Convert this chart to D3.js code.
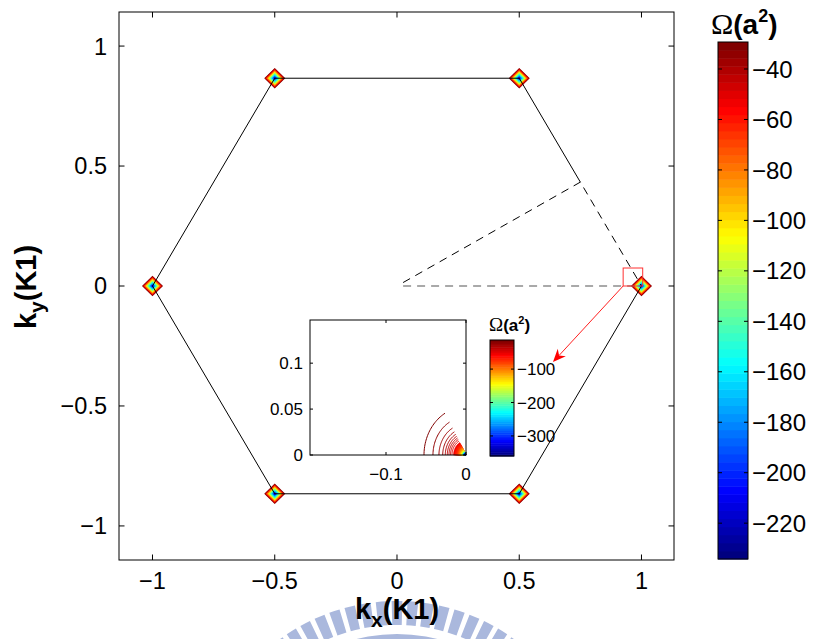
<!DOCTYPE html>
<html><head><meta charset="utf-8">
<script src="https://cdn.jsdelivr.net/npm/d3@7"></script>
<style>
body{margin:0;background:#fff}
svg{display:block}
text{font-family:"Liberation Sans",Arial,Helvetica,sans-serif;fill:#000}
</style>
</head><body>
<svg id="c" width="815" height="639"></svg>
<script>
// ---------------- data ----------------
const kPoints = [[1,0],[0.5,0.866],[-0.5,0.866],[-1,0],[-0.5,-0.866],[0.5,-0.866]];
// Brillouin-zone boundary (solid part; M->K is drawn dashed)
const hexagon = [[1,0],[0.5,-0.866],[-0.5,-0.866],[-1,0],[-0.5,0.866],[0.5,0.866],[0.75,0.433]];
const wedgePath = [[0.025,0.0144],[0.75,0.433],[1,0]];
const gammaK = [[0.025,0],[1,0]];
const zoomBox = [[0.925,0],[1.005,0.075]];
const arrowPts = [[0.925,0],[0.638,-0.317]];
const xTicks = [-1,-0.5,0,0.5,1];
const yTicks = [-1,-0.5,0,0.5,1];
const xTickLabels = ["\u22121","\u22120.5","0","0.5","1"];
const yTickLabels = ["\u22121","\u22120.5","0","0.5","1"];
// contour levels around every K point (value, half-diagonal in k units)
const kLevels = [-30,-45,-60,-75,-90,-105,-120,-135,-150,-165,-180,-195,-210,-225];
const kRadii  = [0.043,0.040,0.0368,0.0336,0.0303,0.027,0.0237,0.0205,0.0172,0.014,0.0107,0.0078,0.005,0.0025];
const cbTicks = [-40,-60,-80,-100,-120,-140,-160,-180,-200,-220];
const cbTickLabels = ["\u221240","\u221260","\u221280","\u2212100","\u2212120","\u2212140","\u2212160","\u2212180","\u2212200","\u2212220"];
const cbDomain = [-234.2,-29.3];
// inset
const insetXTicks = [-0.1,0];
const insetXTickLabels = ["\u22120.1","0"];
const insetYTicks = [0,0.05,0.1];
const insetYTickLabels = ["0","0.05","0.1"];
const insetLevels = [-15,-19,-24,-28,-32,-36,-40,-45,-50,-56,-62,-70,-78,-87,-97,-108,-120,-135,-150,-170,-190,-215,-240,-270,-300,-330,-355];
const insetRadii  = [0.0525,0.0413,0.0338,0.0291,0.0259,0.0234,0.0213,0.0194,0.0175,0.0156,0.0140,0.0125,0.0113,0.0100,0.0090,0.0080,0.0070,0.0061,0.0054,0.0048,0.0041,0.0036,0.0031,0.0028,0.0024,0.0020,0.0016];
const insetCbTicks = [-100,-200,-300];
const insetCbTickLabels = ["\u2212100","\u2212200","\u2212300"];
const insetCbDomain = [-360,-13];

// ---------------- helpers ----------------
function jet(t){
  const c=v=>Math.max(0,Math.min(1,v));
  return d3.rgb(255*c(1.5-Math.abs(4*t-3)),255*c(1.5-Math.abs(4*t-2)),255*c(1.5-Math.abs(4*t-1)))+"";
}
function cmap(domain){
  return v=>{
    let i=Math.floor((v-domain[0])/(domain[1]-domain[0])*64);
    i=Math.max(0,Math.min(63,i));
    return jet(i/63);
  };
}
const svg = d3.select("#c");

// watermark (decorative)
const wm = svg.append("g").attr("transform","translate(397,800)").attr("fill","#aab8dd");
const arc = d3.arc();
d3.range(-8,9).forEach(k=>{
  wm.append("path").attr("d",arc({innerRadius:175,outerRadius:199,startAngle:k*0.08-0.027,endAngle:k*0.08+0.027}));
});
wm.append("path").attr("d",arc({innerRadius:150,outerRadius:166,startAngle:-0.7,endAngle:0.7}));

// ---------------- main axes ----------------
const X0=119,X1=674,Y0=12,Y1=560;
const x = d3.scaleLinear().domain([-1.137,1.133]).range([X0,X1]);
const y = d3.scaleLinear().domain([-1.142,1.142]).range([Y1,Y0]);
const cMain = cmap(cbDomain);
const line = d3.line().x(d=>x(d[0])).y(d=>y(d[1]));

svg.append("rect").attr("x",X0).attr("y",Y0).attr("width",X1-X0).attr("height",Y1-Y0).attr("fill","#fff");

// diamonds
const gd = svg.append("g");
kPoints.forEach(p=>{
  kLevels.forEach((v,i)=>{
    const r=kRadii[i];
    gd.append("path").attr("d",line([[p[0]+r,p[1]],[p[0],p[1]+r],[p[0]-r,p[1]],[p[0],p[1]-r],[p[0]+r,p[1]]]))
      .attr("fill",cMain(v)).attr("stroke","none");
  });
});

svg.append("path").attr("d",line(hexagon)).attr("fill","none").attr("stroke","#000").attr("stroke-width",1);
svg.append("path").attr("d",line(wedgePath)).attr("fill","none").attr("stroke","#000").attr("stroke-width",1).attr("stroke-dasharray","8,6");
svg.append("path").attr("d",line(gammaK)).attr("fill","none").attr("stroke","#555").attr("stroke-width",1.2).attr("stroke-dasharray","8,6");

// zoom box
svg.append("rect").attr("x",x(zoomBox[0][0])).attr("y",y(zoomBox[1][1]))
  .attr("width",x(zoomBox[1][0])-x(zoomBox[0][0])).attr("height",y(zoomBox[0][1])-y(zoomBox[1][1]))
  .attr("fill","none").attr("stroke","#ff3030").attr("stroke-width",1);

// axes box & ticks
svg.append("rect").attr("x",X0).attr("y",Y0).attr("width",X1-X0).attr("height",Y1-Y0).attr("fill","none").attr("stroke","#000").attr("stroke-width",1);
const tl=5.5;
xTicks.forEach((t,i)=>{
  svg.append("line").attr("x1",x(t)).attr("x2",x(t)).attr("y1",Y1).attr("y2",Y1-tl).attr("stroke","#000");
  svg.append("line").attr("x1",x(t)).attr("x2",x(t)).attr("y1",Y0).attr("y2",Y0+tl).attr("stroke","#000");
  svg.append("text").attr("x",x(t)).attr("y",589).attr("text-anchor","middle").attr("font-size",23.5).text(xTickLabels[i]);
});
yTicks.forEach((t,i)=>{
  svg.append("line").attr("x1",X0).attr("x2",X0+tl).attr("y1",y(t)).attr("y2",y(t)).attr("stroke","#000");
  svg.append("line").attr("x1",X1).attr("x2",X1-tl).attr("y1",y(t)).attr("y2",y(t)).attr("stroke","#000");
  svg.append("text").attr("x",107).attr("y",y(t)).attr("dy","0.36em").attr("text-anchor","end").attr("font-size",23.5).text(yTickLabels[i]);
});
// axis labels
const xl = svg.append("text").attr("x",397).attr("y",619).attr("text-anchor","middle").attr("font-size",29).attr("font-weight","bold");
xl.append("tspan").text("k");
xl.append("tspan").attr("dy",8).attr("font-size",21).text("x");
xl.append("tspan").attr("dy",-8).text("(K1)");
const yl = svg.append("text").attr("transform","translate(36,287) rotate(-90)").attr("text-anchor","middle").attr("font-size",29).attr("font-weight","bold");
yl.append("tspan").text("k");
yl.append("tspan").attr("dy",8).attr("font-size",21).text("y");
yl.append("tspan").attr("dy",-8).text("(K1)");

// ---------------- main colorbar ----------------
const CB={x0:718,x1:748,y0:42,y1:559};
const cbS = d3.scaleLinear().domain(cbDomain).range([CB.y1,CB.y0]);
d3.range(64).forEach(i=>{
  const a=cbDomain[0]+(cbDomain[1]-cbDomain[0])*i/64, b=cbDomain[0]+(cbDomain[1]-cbDomain[0])*(i+1)/64;
  svg.append("rect").attr("x",CB.x0).attr("y",cbS(b)).attr("width",CB.x1-CB.x0).attr("height",cbS(a)-cbS(b)+0.5).attr("fill",jet(i/63));
});
svg.append("rect").attr("x",CB.x0).attr("y",CB.y0).attr("width",CB.x1-CB.x0).attr("height",CB.y1-CB.y0).attr("fill","none").attr("stroke","#000");
cbTicks.forEach((t,i)=>{
  svg.append("line").attr("x1",CB.x0).attr("x2",CB.x0+4).attr("y1",cbS(t)).attr("y2",cbS(t)).attr("stroke","#000");
  svg.append("line").attr("x1",CB.x1).attr("x2",CB.x1-4).attr("y1",cbS(t)).attr("y2",cbS(t)).attr("stroke","#000");
  svg.append("text").attr("x",752).attr("y",cbS(t)).attr("dy","0.36em").attr("font-size",24).text(cbTickLabels[i]);
});
const ct = svg.append("text").attr("x",711).attr("y",34);
ct.append("tspan").attr("font-family","'Liberation Serif','Times New Roman',serif").attr("font-size",30).text("\u03A9");
ct.append("tspan").attr("font-weight","bold").attr("font-size",28).text("(a");
ct.append("tspan").attr("font-weight","bold").attr("font-size",18).attr("dy",-12).text("2");
ct.append("tspan").attr("font-weight","bold").attr("font-size",28).attr("dy",12).text(")");

// ---------------- inset ----------------
const I={x0:310,x1:466,y0:320,y1:455};
const xi = d3.scaleLinear().domain([-0.195,0]).range([I.x0,I.x1]);
const yi = d3.scaleLinear().domain([0,0.147]).range([I.y1,I.y0]);
const cIn = cmap(insetCbDomain);
svg.append("rect").attr("x",I.x0).attr("y",I.y0).attr("width",I.x1-I.x0).attr("height",I.y1-I.y0).attr("fill","#fff");
const lineI = d3.line().x(d=>xi(d[0])).y(d=>yi(d[1]));
const angs = d3.range(120,180.01,2).map(a=>a*Math.PI/180);
insetLevels.forEach((v,i)=>{
  const r=insetRadii[i];
  const pts=angs.map(a=>[r*Math.cos(a),r*Math.sin(a)]);
  if(r<0.0165){
    svg.append("path").attr("d",lineI([[0,0],...pts,[0,0]])).attr("fill",cIn(v)).attr("stroke",cIn(v)).attr("stroke-width",0.6);
  } else {
    svg.append("path").attr("d",lineI(pts)).attr("fill","none").attr("stroke",cIn(v)).attr("stroke-width",1);
  }
});
svg.append("rect").attr("x",I.x0).attr("y",I.y0).attr("width",I.x1-I.x0).attr("height",I.y1-I.y0).attr("fill","none").attr("stroke","#000");
insetXTicks.forEach((t,i)=>{
  svg.append("line").attr("x1",xi(t)).attr("x2",xi(t)).attr("y1",I.y1).attr("y2",I.y1-3).attr("stroke","#000");
  svg.append("line").attr("x1",xi(t)).attr("x2",xi(t)).attr("y1",I.y0).attr("y2",I.y0+3).attr("stroke","#000");
  svg.append("text").attr("x",xi(t)).attr("y",480).attr("text-anchor","middle").attr("font-size",17).text(insetXTickLabels[i]);
});
insetYTicks.forEach((t,i)=>{
  svg.append("line").attr("x1",I.x0).attr("x2",I.x0+3).attr("y1",yi(t)).attr("y2",yi(t)).attr("stroke","#000");
  svg.append("line").attr("x1",I.x1).attr("x2",I.x1-3).attr("y1",yi(t)).attr("y2",yi(t)).attr("stroke","#000");
  svg.append("text").attr("x",303).attr("y",yi(t)).attr("dy","0.36em").attr("text-anchor","end").attr("font-size",17).text(insetYTickLabels[i]);
});
// inset colorbar
const IC={x0:490,x1:514,y0:340,y1:456};
const icS = d3.scaleLinear().domain(insetCbDomain).range([IC.y1,IC.y0]);
d3.range(64).forEach(i=>{
  const a=insetCbDomain[0]+(insetCbDomain[1]-insetCbDomain[0])*i/64, b=insetCbDomain[0]+(insetCbDomain[1]-insetCbDomain[0])*(i+1)/64;
  svg.append("rect").attr("x",IC.x0).attr("y",icS(b)).attr("width",IC.x1-IC.x0).attr("height",icS(a)-icS(b)+0.5).attr("fill",jet(i/63));
});
svg.append("rect").attr("x",IC.x0).attr("y",IC.y0).attr("width",IC.x1-IC.x0).attr("height",IC.y1-IC.y0).attr("fill","none").attr("stroke","#000");
insetCbTicks.forEach((t,i)=>{
  svg.append("line").attr("x1",IC.x0).attr("x2",IC.x0+3).attr("y1",icS(t)).attr("y2",icS(t)).attr("stroke","#000");
  svg.append("line").attr("x1",IC.x1).attr("x2",IC.x1-3).attr("y1",icS(t)).attr("y2",icS(t)).attr("stroke","#000");
  svg.append("text").attr("x",517).attr("y",icS(t)).attr("dy","0.36em").attr("font-size",17).text(insetCbTickLabels[i]);
});
const it = svg.append("text").attr("x",489).attr("y",331);
it.append("tspan").attr("font-family","'Liberation Serif','Times New Roman',serif").attr("font-size",19).text("\u03A9");
it.append("tspan").attr("font-weight","bold").attr("font-size",17).text("(a");
it.append("tspan").attr("font-weight","bold").attr("font-size",11).attr("dy",-7).text("2");
it.append("tspan").attr("font-weight","bold").attr("font-size",17).attr("dy",7).text(")");

// ---------------- arrow ----------------
const p0=[x(arrowPts[0][0]),y(arrowPts[0][1])], p1=[x(arrowPts[1][0]),y(arrowPts[1][1])];
const ang=Math.atan2(p1[1]-p0[1],p1[0]-p0[0]);
const u=[Math.cos(ang),Math.sin(ang)], n=[-u[1],u[0]];
const L=13,W=5.5,N=4;
const notch=[p1[0]-(L-N)*u[0],p1[1]-(L-N)*u[1]];
svg.append("line").attr("x1",p0[0]).attr("y1",p0[1]).attr("x2",notch[0]).attr("y2",notch[1]).attr("stroke","#ff2020").attr("stroke-width",1);
svg.append("path").attr("d",`M${p1[0]},${p1[1]}L${p1[0]-L*u[0]+W*n[0]},${p1[1]-L*u[1]+W*n[1]}L${notch[0]},${notch[1]}L${p1[0]-L*u[0]-W*n[0]},${p1[1]-L*u[1]-W*n[1]}Z`).attr("fill","#ff0000");
</script>
</body></html>
